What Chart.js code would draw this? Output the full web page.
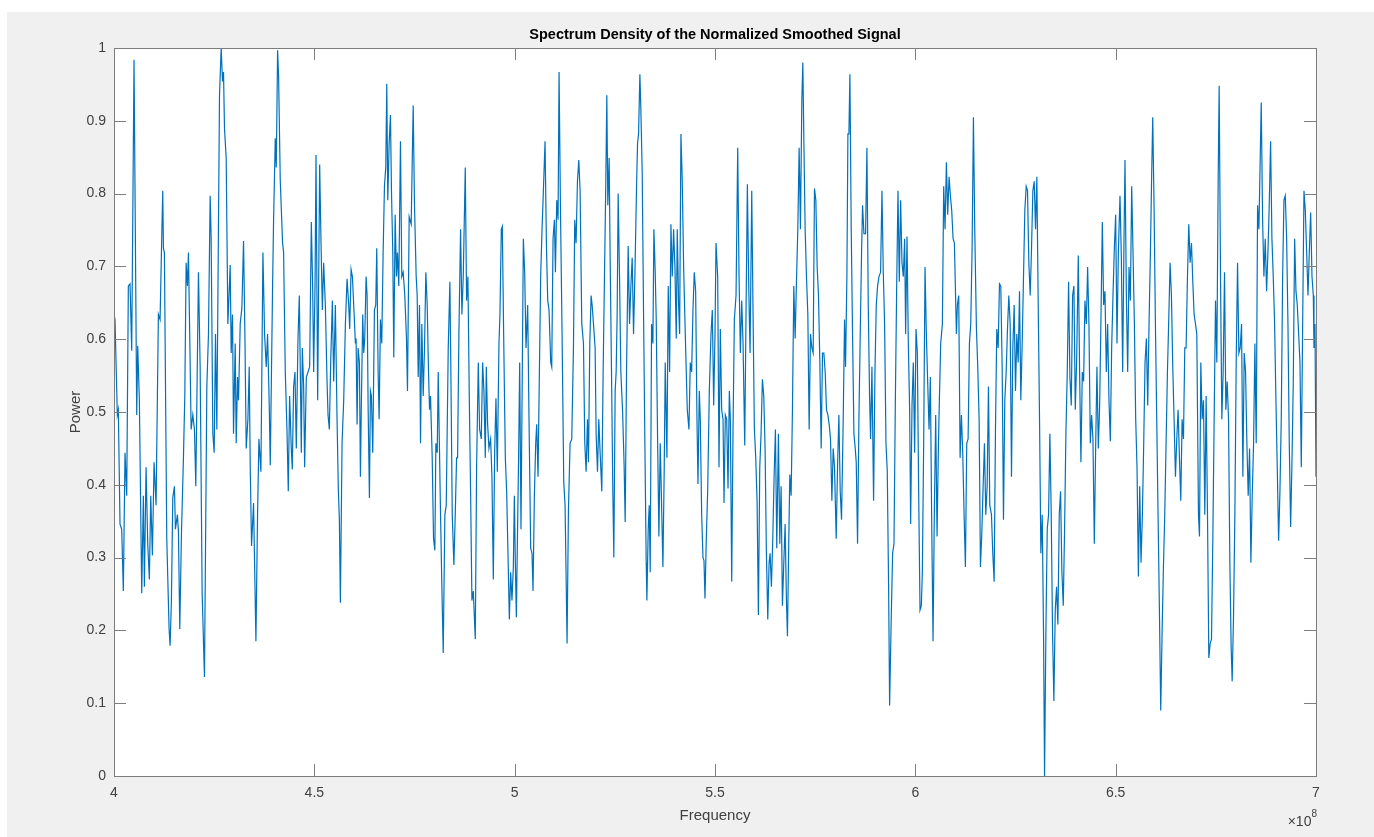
<!DOCTYPE html>
<html><head><meta charset="utf-8">
<script src="https://cdn.jsdelivr.net/npm/chart.js@4.4.1/dist/chart.umd.min.js"></script>
<style>html,body{margin:0;padding:0;background:#fff;overflow:hidden}canvas{display:block}</style>
</head><body>
<canvas id="c" width="1374" height="837"></canvas>
<script>
// ---- DATA (frequency in MHz, power normalized) ----
const f1=[400.00,400.25,400.83,401.08,401.50,401.92,402.33,402.75,403.17,403.58,404.00,404.42,405.00,405.67,405.92,406.33,406.92,407.33,407.58,408.00,408.42,408.83,409.17,409.58,410.00,410.50,411.08,411.50,411.92,412.17,412.33,412.58,413.17,413.75,414.00,414.33,414.67,415.08,415.33,415.83,416.08,416.42,416.83,417.33,417.67,418.00,418.33,418.58,418.92,419.25,419.67,420.08,420.42,421.08,421.50,422.00,422.58,423.17,423.58,424.00,424.25,424.67,425.00,425.33,425.67,426.33,426.75,427.08,427.33,427.58,428.00,428.42,428.75,429.00,429.25,429.58,429.83,430.25];
const p1=[0.634,0.627,0.496,0.503,0.346,0.339,0.254,0.444,0.385,0.673,0.676,0.584,0.984,0.496,0.591,0.516,0.251,0.385,0.260,0.424,0.319,0.270,0.385,0.303,0.431,0.372,0.634,0.627,0.741,0.804,0.725,0.719,0.326,0.202,0.179,0.241,0.382,0.398,0.339,0.359,0.336,0.202,0.332,0.437,0.522,0.705,0.673,0.719,0.598,0.476,0.496,0.476,0.398,0.692,0.562,0.251,0.136,0.535,0.607,0.797,0.738,0.470,0.444,0.607,0.476,0.935,1.000,0.954,0.967,0.889,0.849,0.621,0.666,0.702,0.581,0.634,0.470,0.594];
const f2=[430.50,430.83,431.08,431.50,431.92,432.33,432.67,433.00,433.42,433.75,434.00,434.33,434.83,435.42,435.83,436.17,436.67,437.17,437.58,438.00,438.33,438.75,439.00,439.58,439.83,440.25,440.50,440.83,441.08,441.50,442.08,442.33,442.75,443.17,443.50,443.83,444.25,444.50,444.83,445.17,445.50,445.92,446.25,446.50,446.75,447.00,447.33,447.58,448.00,448.42,448.83,449.25,449.58,449.83,450.17,450.42,450.83,451.33,451.67,452.00,452.33,452.75,453.17,453.42,453.75,454.08,454.50,454.83,455.25,455.67,456.00,456.25,456.50,456.92,457.33,457.75,458.17,458.58,458.83,459.17,459.50,459.83,460.25];
const p2=[0.457,0.548,0.516,0.621,0.643,0.735,0.607,0.450,0.490,0.562,0.424,0.316,0.375,0.185,0.359,0.463,0.418,0.719,0.607,0.562,0.607,0.509,0.427,0.673,0.764,0.876,0.836,0.997,0.961,0.817,0.732,0.719,0.555,0.476,0.391,0.522,0.450,0.421,0.535,0.555,0.450,0.601,0.660,0.555,0.444,0.588,0.535,0.424,0.548,0.555,0.562,0.761,0.673,0.555,0.673,0.853,0.516,0.840,0.732,0.640,0.705,0.647,0.542,0.496,0.476,0.568,0.653,0.542,0.647,0.490,0.391,0.352,0.238,0.457,0.516,0.621,0.683,0.647,0.614,0.696,0.686,0.647,0.594];
const f3=[460.42,460.67,460.92,461.25,461.50,461.75,462.08,462.33,462.58,462.92,463.17,463.42,463.75,464.00,464.25,464.58,465.00,465.33,465.58,465.92,466.17,466.50,466.83,467.17,467.50,467.83,468.08,468.33,468.67,469.00,469.25,469.58,469.83,470.17,470.50,470.75,471.08,471.50,471.83,472.17,472.58,473.00,473.25,473.67,474.17,474.67,475.00,475.42,475.67,475.92,476.25,476.50,476.83,477.17,477.50,477.83,478.17,478.50,478.75,479.00,479.42,479.75,480.08,480.33,480.67,480.92,481.17,481.50,481.83,482.17,482.58,482.92,483.42,483.83,484.08,484.42,484.83,485.17,485.50,485.75,486.08,486.50,486.83,487.17,487.67,488.00,488.33,488.67,489.00,489.33,489.67];
const p3=[0.601,0.483,0.588,0.568,0.411,0.516,0.634,0.581,0.601,0.686,0.660,0.509,0.382,0.529,0.522,0.444,0.640,0.647,0.725,0.555,0.490,0.627,0.594,0.719,0.810,0.836,0.951,0.791,0.869,0.908,0.804,0.719,0.575,0.771,0.686,0.719,0.673,0.872,0.686,0.692,0.660,0.601,0.529,0.768,0.758,0.921,0.784,0.686,0.660,0.548,0.647,0.457,0.621,0.522,0.588,0.692,0.647,0.555,0.503,0.522,0.437,0.326,0.310,0.457,0.444,0.555,0.470,0.359,0.260,0.169,0.359,0.372,0.588,0.679,0.555,0.359,0.290,0.359,0.437,0.437,0.607,0.751,0.634,0.686,0.836,0.653,0.686,0.522,0.391,0.241,0.254];
const f4=[490.17,490.50,490.92,491.25,491.67,492.00,492.33,492.67,492.92,493.25,493.58,494.00,494.33,494.67,495.00,495.33,495.67,496.08,496.33,496.67,496.92,497.25,497.67,498.00,498.33,498.67,499.00,499.33,499.67,499.92,500.17,500.42,500.67,501.00,501.25,501.58,501.92,502.17,502.50,502.83,503.25,503.58,504.00,504.33,504.58,504.92,505.25,505.50,505.83,506.17,506.50,506.83,507.17,507.58,507.92,508.25,508.58,509.00,509.25,509.58,509.92,510.17,510.50,510.83,511.08,511.42,511.83,512.25,512.58,513.08,513.42,513.83,514.25,514.67,515.00,515.33,515.67,516.00,516.33,516.75,517.17,517.50,517.83,518.17,518.42,518.75,519.08,519.33,519.67,520.08];
const p4=[0.188,0.424,0.568,0.476,0.463,0.568,0.529,0.437,0.562,0.483,0.450,0.463,0.411,0.270,0.444,0.519,0.418,0.594,0.634,0.751,0.755,0.607,0.437,0.391,0.306,0.215,0.280,0.241,0.287,0.385,0.293,0.218,0.319,0.444,0.568,0.339,0.568,0.738,0.692,0.588,0.647,0.490,0.313,0.306,0.254,0.385,0.457,0.483,0.411,0.555,0.689,0.751,0.804,0.872,0.732,0.653,0.640,0.568,0.562,0.738,0.764,0.692,0.791,0.764,0.967,0.784,0.607,0.404,0.372,0.182,0.365,0.457,0.463,0.588,0.764,0.732,0.817,0.846,0.804,0.621,0.594,0.457,0.418,0.490,0.431,0.594,0.660,0.647,0.621,0.588];
const f5=[520.33,520.67,521.00,521.33,521.75,522.08,522.50,522.75,523.00,523.25,523.58,523.83,524.17,524.50,524.75,525.08,525.33,525.58,525.83,526.17,526.50,526.92,527.33,527.58,527.92,528.33,528.67,529.00,529.33,529.67,530.00,530.42,530.67,530.92,531.25,531.50,531.83,532.17,532.50,532.83,533.00,533.33,533.58,533.83,534.17,534.50,534.75,535.08,535.33,535.67,536.00,536.33,536.67,537.00,537.33,537.58,538.00,538.33,538.67,539.00,539.33,539.67,540.00,540.33,540.58,540.92,541.17,541.50,541.83,542.17,542.58,543.08,543.50,543.83,544.17,544.50,544.83,545.17,545.50,545.75,546.08,546.33,546.67,547.00,547.25,547.50,547.83,548.17,548.58,549.00,549.33,549.67,550.00,550.25];
const p5=[0.470,0.418,0.490,0.444,0.391,0.555,0.719,0.817,0.935,0.784,0.849,0.712,0.555,0.391,0.300,0.529,0.555,0.634,0.800,0.686,0.555,0.503,0.424,0.349,0.555,0.728,0.621,0.673,0.712,0.607,0.686,0.810,0.869,0.882,0.964,0.915,0.830,0.634,0.457,0.293,0.241,0.339,0.372,0.280,0.621,0.594,0.751,0.692,0.627,0.463,0.329,0.457,0.372,0.287,0.424,0.568,0.437,0.673,0.555,0.758,0.686,0.751,0.699,0.601,0.751,0.647,0.607,0.882,0.817,0.699,0.607,0.503,0.476,0.568,0.555,0.640,0.692,0.666,0.490,0.401,0.529,0.490,0.359,0.300,0.296,0.244,0.326,0.391,0.529,0.607,0.640,0.509,0.607,0.732];
const f6=[550.67,551.00,551.33,551.67,552.00,552.25,552.58,552.92,553.25,553.58,553.83,554.17,554.50,554.83,555.25,555.67,556.00,556.33,556.67,557.00,557.42,557.75,558.08,558.42,558.75,559.17,559.50,559.83,560.17,560.50,560.83,561.17,561.50,561.83,562.17,562.50,562.83,563.17,563.50,563.75,564.08,564.42,564.75,565.08,565.42,565.83,566.17,566.50,566.83,567.17,567.50,567.83,568.08,568.42,568.67,569.00,569.33,569.67,570.00,570.33,570.67,571.00,571.33,571.67,571.92,572.17,572.50,572.83,573.17,573.50,573.83,574.17,574.50,574.83,575.17,575.50,575.83,576.17,576.50,576.83,577.17,577.50,577.83,578.17,578.50,578.83,579.17,579.50,579.83,580.25];
const p6=[0.686,0.424,0.614,0.503,0.490,0.375,0.496,0.490,0.395,0.529,0.490,0.267,0.476,0.627,0.660,0.863,0.686,0.581,0.653,0.594,0.454,0.640,0.813,0.673,0.581,0.804,0.634,0.476,0.437,0.378,0.221,0.424,0.470,0.545,0.522,0.450,0.306,0.215,0.293,0.306,0.260,0.326,0.411,0.476,0.313,0.470,0.319,0.398,0.234,0.293,0.346,0.241,0.192,0.326,0.414,0.385,0.503,0.673,0.601,0.679,0.751,0.863,0.751,0.928,0.980,0.876,0.751,0.686,0.634,0.476,0.607,0.588,0.581,0.807,0.791,0.699,0.660,0.568,0.450,0.581,0.581,0.555,0.503,0.496,0.483,0.463,0.378,0.450,0.424,0.326];
const f7=[580.58,580.92,581.25,581.58,582.00,582.33,582.58,582.92,583.17,583.42,583.67,584.00,584.33,584.67,585.00,585.25,585.58,585.92,586.25,586.58,586.83,587.17,587.58,587.92,588.25,588.58,588.83,589.17,589.58,589.92,590.25,590.58,590.92,591.33,591.67,592.00,592.33,592.67,593.00,593.33,593.58,594.00,594.33,594.67,595.00,595.33,595.67,596.00,596.33,596.67,597.00,597.33,597.58,597.92,598.25,598.58,598.83,599.17,599.50,599.83,600.17,600.50,600.83,601.17,601.50,601.75,602.08,602.42,602.75,603.08,603.42,603.75,604.08,604.42,604.75,605.08,605.42,605.75,606.00,606.33,606.75,607.08,607.42,607.75,608.08,608.42,608.75,609.08,609.42,609.75,610.25];
const p7=[0.424,0.496,0.391,0.352,0.490,0.627,0.562,0.686,0.882,0.882,0.964,0.751,0.607,0.470,0.450,0.431,0.319,0.490,0.607,0.719,0.784,0.745,0.745,0.863,0.647,0.522,0.463,0.562,0.378,0.555,0.647,0.673,0.686,0.692,0.804,0.692,0.621,0.457,0.418,0.260,0.097,0.221,0.306,0.319,0.509,0.666,0.804,0.679,0.791,0.705,0.686,0.738,0.607,0.741,0.594,0.503,0.346,0.509,0.568,0.444,0.614,0.581,0.391,0.228,0.234,0.280,0.457,0.699,0.607,0.542,0.476,0.548,0.352,0.185,0.365,0.496,0.329,0.450,0.516,0.594,0.621,0.810,0.751,0.843,0.771,0.823,0.797,0.777,0.738,0.732,0.607];
const f8=[610.50,610.83,611.17,611.50,611.83,612.17,612.50,612.83,613.17,613.50,613.83,614.17,614.50,614.83,615.25,615.58,615.92,616.25,616.58,616.92,617.25,617.58,617.92,618.25,618.58,619.00,619.33,619.67,620.00,620.33,620.67,621.00,621.33,621.67,622.00,622.33,622.67,623.00,623.33,623.67,624.00,624.33,624.67,625.00,625.33,625.67,626.00,626.33,626.67,627.00,627.33,627.67,628.00,628.33,628.67,629.00,629.33,629.67,630.00,630.33,630.67,631.00,631.33,631.67,632.00,632.25,632.58,632.92,633.25,633.58,633.92,634.25,634.58,634.92,635.25,635.58,635.92,636.25,636.58,636.92,637.25,637.58,637.92,638.25,638.58,638.92,639.25,639.58,639.92,640.25];
const p8=[0.647,0.660,0.437,0.496,0.444,0.359,0.287,0.457,0.463,0.594,0.621,0.725,0.905,0.751,0.614,0.562,0.490,0.287,0.332,0.398,0.457,0.359,0.398,0.535,0.372,0.359,0.306,0.267,0.476,0.614,0.588,0.676,0.673,0.562,0.352,0.516,0.555,0.614,0.660,0.621,0.411,0.588,0.647,0.529,0.607,0.568,0.666,0.516,0.594,0.686,0.777,0.810,0.804,0.705,0.660,0.725,0.804,0.817,0.751,0.823,0.647,0.490,0.306,0.359,0.195,0.000,0.195,0.339,0.359,0.470,0.359,0.195,0.103,0.228,0.260,0.208,0.359,0.391,0.280,0.234,0.339,0.470,0.555,0.679,0.548,0.509,0.660,0.673,0.503,0.568];
const f9=[640.67,641.00,641.33,641.67,642.00,642.33,642.67,643.00,643.33,643.67,644.00,644.33,644.67,645.00,645.33,645.67,646.00,646.33,646.67,647.00,647.33,647.67,648.00,648.33,648.67,649.00,649.33,649.67,650.00,650.33,650.67,651.08,651.42,651.75,652.08,652.33,652.67,653.00,653.33,653.67,654.00,654.33,654.67,655.00,655.33,655.67,656.00,656.33,656.67,657.00,657.33,657.67,658.00,658.33,658.67,659.00,659.25,659.58,659.92,660.25,660.58,660.92,661.25,661.58,661.92,662.25,662.58,662.92,663.25,663.58,663.92,664.25,664.58,664.92,665.25,665.58,665.92,666.25,666.58,666.92,667.25,667.58,667.92,668.25,668.58,668.92,669.25,669.58,669.92,670.25];
const p9=[0.715,0.555,0.431,0.555,0.542,0.653,0.621,0.699,0.621,0.457,0.496,0.463,0.319,0.450,0.562,0.450,0.509,0.627,0.761,0.647,0.666,0.555,0.621,0.516,0.460,0.588,0.660,0.725,0.771,0.594,0.719,0.797,0.712,0.555,0.738,0.846,0.660,0.555,0.699,0.653,0.810,0.719,0.621,0.490,0.424,0.274,0.398,0.293,0.359,0.457,0.568,0.601,0.509,0.621,0.719,0.830,0.905,0.784,0.621,0.490,0.359,0.228,0.090,0.195,0.287,0.359,0.457,0.555,0.627,0.705,0.660,0.562,0.490,0.411,0.463,0.503,0.437,0.378,0.490,0.463,0.588,0.588,0.686,0.758,0.705,0.732,0.679,0.634,0.621,0.607];
const f10=[670.67,670.92,671.25,671.58,671.92,672.25,672.58,672.92,673.25,673.58,673.92,674.25,674.58,674.92,675.25,675.58,675.83,676.17,676.50,676.83,677.17,677.50,677.83,678.17,678.50,678.83,679.08,679.42,679.75,680.08,680.42,680.75,681.08,681.42,681.75,682.08,682.42,682.75,683.08,683.42,683.75,684.08,684.42,684.75,685.08,685.42,685.75,686.08,686.33,686.67,687.00,687.33,687.67,688.00,688.33,688.67,689.00,689.33,689.67,690.00,690.33,690.67,691.00,691.33,691.67,692.00,692.33,692.67,693.00,693.33,693.67,694.00,694.33,694.67,695.00,695.33,695.67,696.00,696.33,696.67,697.00,697.33,697.67,698.00,698.33,698.67,699.00,699.33,699.50,699.75,700.00];
const p10=[0.359,0.329,0.568,0.490,0.516,0.359,0.522,0.359,0.162,0.182,0.188,0.326,0.490,0.653,0.568,0.817,0.948,0.686,0.490,0.555,0.692,0.503,0.542,0.490,0.293,0.175,0.130,0.221,0.359,0.568,0.705,0.581,0.588,0.621,0.411,0.581,0.555,0.457,0.385,0.450,0.293,0.385,0.457,0.594,0.457,0.784,0.751,0.849,0.925,0.764,0.686,0.738,0.666,0.719,0.784,0.872,0.738,0.686,0.621,0.516,0.424,0.323,0.391,0.490,0.686,0.791,0.797,0.738,0.621,0.457,0.342,0.431,0.542,0.738,0.666,0.647,0.607,0.568,0.424,0.621,0.804,0.777,0.719,0.660,0.719,0.774,0.686,0.660,0.588,0.621,0.411];

const xTickValues=[400,450,500,550,600,650,700];
const xTickLabels=['4','4.5','5','5.5','6','6.5','7'];
const yTickValues=[0,0.1,0.2,0.3,0.4,0.5,0.6,0.7,0.8,0.9,1];
const yTickLabels=['0','0.1','0.2','0.3','0.4','0.5','0.6','0.7','0.8','0.9','1'];
const chartTitle='Spectrum Density of the Normalized Smoothed Signal';
const xTitle='Frequency';
const yTitle='Power';
const xExpBase='\u00d710', xExpPow='8';

// ---- build points ----
const segF=[f1,f2,f3,f4,f5,f6,f7,f8,f9,f10];
const segP=[p1,p2,p3,p4,p5,p6,p7,p8,p9,p10];
const points=[];
segF.forEach((f,k)=>{const p=segP[k];const n=Math.min(f.length,p.length);
  for(let i=0;i<n;i++) points.push({x:f[i],y:p[i]});});

const FONT='"Liberation Sans", Arial, Helvetica, sans-serif';
const AXIS='#7d7d7d';
const TEXT='#404040';

const bgPlugin={id:'bg',beforeDraw(chart){const c=chart.ctx,a=chart.chartArea;
  c.save();c.fillStyle='#ffffff';c.fillRect(0,0,chart.width,chart.height);
  c.fillStyle='#f0f0f0';c.fillRect(7,12,chart.width-7,chart.height-12);
  c.fillStyle='#ffffff';c.fillRect(a.left,a.top,a.right-a.left,a.bottom-a.top);c.restore();}};

const framePlugin={id:'frame',afterDatasetsDraw(chart){const c=chart.ctx,a=chart.chartArea;
  const xs=chart.scales.x, ys=chart.scales.y, TL=12;
  c.save();c.strokeStyle=AXIS;c.lineWidth=1;c.beginPath();
  xTickValues.forEach(v=>{const px=Math.round(xs.getPixelForValue(v))+0.5;
    c.moveTo(px,a.bottom);c.lineTo(px,a.bottom-TL);c.moveTo(px,a.top);c.lineTo(px,a.top+TL);});
  yTickValues.forEach(v=>{const py=Math.round(ys.getPixelForValue(v))+0.5;
    c.moveTo(a.left,py);c.lineTo(a.left+TL,py);c.moveTo(a.right,py);c.lineTo(a.right-TL,py);});
  c.stroke();
  c.strokeRect(Math.round(a.left)+0.5,Math.round(a.top)+0.5,Math.round(a.right-a.left),Math.round(a.bottom-a.top));
  // title
  c.fillStyle='#000';c.font='bold 14.5px '+FONT;c.textAlign='center';c.textBaseline='middle';
  c.fillText(chartTitle,(a.left+a.right)/2,35);
  // exponent
  c.fillStyle=TEXT;c.textAlign='right';c.textBaseline='alphabetic';
  c.font='10px '+FONT;const pw=c.measureText(xExpPow).width;
  c.fillText(xExpPow,a.right+1,817);
  c.font='14px '+FONT;c.fillText(xExpBase,a.right+1-pw,826);
  c.restore();}};

new Chart(document.getElementById('c').getContext('2d'),{
  type:'line',
  data:{datasets:[{data:points,borderColor:'#0072BD',borderWidth:1.2,pointRadius:0,tension:0,fill:false}]},
  options:{responsive:false,animation:false,devicePixelRatio:1,
    layout:{padding:{left:0,top:48,right:58,bottom:0}},
    plugins:{legend:{display:false},tooltip:{enabled:false},title:{display:false}},
    scales:{
      x:{type:'linear',min:400,max:700,
        afterBuildTicks:s=>{s.ticks=xTickValues.map(v=>({value:v}));},
        ticks:{callback:v=>xTickLabels[xTickValues.indexOf(v)],color:TEXT,font:{family:FONT,size:14},padding:9,maxRotation:0,autoSkip:false},
        grid:{display:false,drawTicks:false},border:{display:false},
        title:{display:true,text:xTitle,color:TEXT,font:{family:FONT,size:15},padding:{top:0,bottom:12}},
        afterFit:s=>{s.height=61;}},
      y:{type:'linear',min:0,max:1,
        afterBuildTicks:s=>{s.ticks=yTickValues.map(v=>({value:v}));},
        ticks:{callback:v=>yTickLabels[yTickValues.indexOf(v)],color:TEXT,font:{family:FONT,size:14},padding:8,autoSkip:false},
        grid:{display:false,drawTicks:false},border:{display:false},
        title:{display:true,text:yTitle,color:TEXT,font:{family:FONT,size:15},padding:{top:67,bottom:0}},
        afterFit:s=>{s.width=114;}}
    }},
  plugins:[bgPlugin,framePlugin]
});
</script>
</body></html>
